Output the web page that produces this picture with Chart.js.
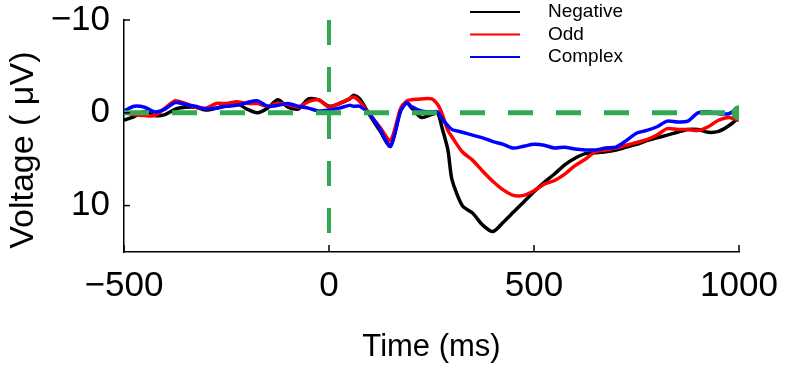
<!DOCTYPE html>
<html>
<head>
<meta charset="utf-8">
<script src="https://cdn.jsdelivr.net/npm/chart.js"></script>
<style>
    html, body { margin: 0; padding: 0; background: #fff; }
    #wrap { width: 785px; height: 371px; }
</style>
</head>
<body>
<div id="wrap"><canvas id="erpChart" width="785" height="371"></canvas></div>
<script>
// Time points (ms) and averaged ERP voltages (µV, positive plotted downward)
const times = [-500, -475, -450, -425, -400, -375, -350, -325, -300, -275, -250, -225, -200, -175, -150, -125, -100, -75, -50, -25,
    0, 25, 50, 60, 75, 100, 125, 150, 175, 190, 200, 225, 250, 265, 275, 290, 300, 325, 350, 375,
    400, 425, 450, 475, 500, 525, 550, 575, 600, 625, 650, 675, 700, 725, 750, 775, 800, 825, 850, 875,
    900, 925, 950, 975, 1000];

const negative = [0.8, 0.4, -0.1, 0.3, 0.2, -0.4, -0.6, -0.6, -0.3, -0.5, -0.8, -1.0, -0.4, 0.0, -0.5, -1.4, -0.6, -0.4, -1.5, -1.4,
    -0.7, -1.0, -1.5, -1.9, -1.5, 0.3, 2.0, 3.6, -0.4, -1.1, -0.6, 0.5, 0.2, 0.0, 1.5, 4.0, 7.2, 10.0, 10.8, 12.1,
    12.8, 11.8, 10.7, 9.6, 8.5, 7.5, 6.6, 5.6, 4.9, 4.4, 4.3, 4.2, 4.0, 3.7, 3.4, 3.0, 2.7, 2.4, 2.1, 1.8,
    1.8, 2.1, 2.0, 1.4, 0.5];

const odd = [0.0, 0.2, 0.3, 0.3, -0.5, -1.3, -1.0, -0.6, -0.5, -1.0, -1.0, -1.2, -1.0, -1.0, -0.7, -1.0, -0.9, -0.6, -1.2, -1.4,
    -0.6, -1.0, -1.5, -1.7, -1.2, 0.2, 1.6, 3.0, -0.5, -1.3, -1.4, -1.5, -1.5, -0.9, 0.0, 1.9, 2.6, 4.2, 5.1, 6.3,
    7.4, 8.3, 8.9, 8.9, 8.4, 7.7, 7.3, 6.6, 5.7, 5.0, 4.2, 4.0, 3.8, 3.5, 3.2, 2.9, 2.4, 1.7, 1.8, 1.8,
    1.9, 1.5, 0.8, 0.5, 0.8];

const complex = [-0.2, -0.7, -0.6, -0.1, -0.4, -1.1, -0.9, -0.7, -0.4, -0.5, -0.7, -0.8, -1.1, -1.3, -0.7, -0.8, -1.0, -0.7, -0.5, -0.2,
    -0.3, -0.5, -0.8, -0.7, -0.7, 0.2, 1.8, 3.6, -0.2, -1.1, -0.7, -0.2, -0.1, -0.1, 0.6, 1.4, 1.8, 2.1, 2.4, 2.7,
    3.1, 3.4, 3.8, 3.6, 3.4, 3.5, 3.8, 3.7, 3.9, 4.0, 4.0, 3.8, 3.7, 3.0, 2.2, 1.9, 1.5, 0.9, 1.0, 0.9,
    0.0, -0.1, 0.1, 0.1, -0.6];

const xTicks = [-500, 0, 500, 1000];
const yTicks = [-10, 0, 10];
const legendLabels = ['Negative', 'Odd', 'Complex'];

const green = '#33a852';
const seriesColors = ['#000000', '#ff0000', '#0000ff'];
const fontFamily = '"Liberation Sans", Arial, sans-serif';

function toPoints(values) {
    return times.map((t, i) => ({ x: t, y: values[i] }));
}

function minusSign(value) {
    return value < 0 ? '\u2212' + Math.abs(value) : String(value);
}

// legend box and small inward ticks, drawn the way the original figure has them
const extras = {
    id: 'extras',
    afterDraw(chart) {
        const { ctx, scales: { x, y } } = chart;
        ctx.save();
        ctx.strokeStyle = '#000';
        ctx.lineWidth = 1.5;
        yTicks.forEach(v => {
            const py = y.getPixelForValue(v);
            ctx.beginPath();
            ctx.moveTo(x.left, py);
            ctx.lineTo(x.left + 6, py);
            ctx.stroke();
        });
        xTicks.forEach(v => {
            const px = x.getPixelForValue(v);
            ctx.beginPath();
            ctx.moveTo(px, y.bottom);
            ctx.lineTo(px, y.bottom - 7);
            ctx.stroke();
        });

        ctx.font = '19px ' + fontFamily;
        ctx.textBaseline = 'middle';
        ctx.fillStyle = '#000';
        legendLabels.forEach((label, i) => {
            const rowY = 12 + i * 22.5;
            ctx.strokeStyle = seriesColors[i];
            ctx.lineWidth = 2;
            ctx.beginPath();
            ctx.moveTo(470, rowY);
            ctx.lineTo(520, rowY);
            ctx.stroke();
            ctx.fillText(label, 548, rowY);
        });
        ctx.restore();
    }
};

const ctx = document.getElementById('erpChart');

new Chart(ctx.getContext('2d'), {
    type: 'line',
    data: {
        datasets: [
            {
                label: 'zero',
                data: [{ x: -500, y: 0 }, { x: 1000, y: 0 }],
                borderColor: green,
                backgroundColor: green,
                borderWidth: 5,
                borderDash: [25, 23],
                pointRadius: [0, 5],
                order: 0,
            },
            {
                label: 'onset',
                data: [{ x: 0, y: -10 }, { x: 0, y: 15 }],
                borderColor: green,
                borderWidth: 4,
                borderDash: [25, 22],
                pointRadius: 0,
                order: 0,
            },
            {
                label: legendLabels[2],
                data: toPoints(complex),
                borderColor: seriesColors[2],
                borderWidth: 3.5,
                pointRadius: 0,
                tension: 0.25,
                order: 1,
            },
            {
                label: legendLabels[1],
                data: toPoints(odd),
                borderColor: seriesColors[1],
                borderWidth: 3.5,
                pointRadius: 0,
                tension: 0.25,
                order: 2,
            },
            {
                label: legendLabels[0],
                data: toPoints(negative),
                borderColor: seriesColors[0],
                borderWidth: 3.5,
                pointRadius: 0,
                tension: 0.25,
                order: 3,
            },
        ],
    },
    options: {
        responsive: false,
        animation: false,
        layout: {
            padding: { top: 20, right: 46, left: 0, bottom: 0 },
        },
        plugins: {
            legend: { display: false },
            tooltip: { enabled: false },
        },
        scales: {
            x: {
                type: 'linear',
                min: -500,
                max: 1000,
                afterBuildTicks: (scale) => { scale.ticks = xTicks.map(v => ({ value: v })); },
                afterFit: (scale) => {
                    scale.height = 119;
                    scale.paddingLeft = 0;
                    scale.paddingRight = 0;
                },
                grid: { display: false, drawTicks: false },
                border: { display: true, color: '#000', width: 1.5 },
                ticks: {
                    color: '#000',
                    font: { family: fontFamily, size: 35 },
                    padding: 13,
                    maxRotation: 0,
                    callback: (value) => minusSign(value),
                },
                title: {
                    display: true,
                    text: 'Time (ms)',
                    color: '#000',
                    font: { family: fontFamily, size: 31 },
                    padding: { top: 0, bottom: 5 },
                },
            },
            y: {
                type: 'linear',
                min: -10,
                max: 15,
                reverse: true,
                afterBuildTicks: (scale) => { scale.ticks = yTicks.map(v => ({ value: v })); },
                afterFit: (scale) => {
                    scale.width = 124;
                    scale.paddingTop = 0;
                    scale.paddingBottom = 0;
                },
                grid: { display: false, drawTicks: false },
                border: { display: true, color: '#000', width: 1.5 },
                ticks: {
                    color: '#000',
                    font: { family: fontFamily, size: 35 },
                    padding: 14,
                    callback: (value) => minusSign(value),
                },
                title: {
                    display: true,
                    // trailing spaces push the centred text down to where the original sits
                    text: 'Voltage ( \u03bcV)   ',
                    color: '#000',
                    font: { family: fontFamily, size: 34 },
                    padding: { top: 3, bottom: 0 },
                },
            },
        },
    },
    plugins: [extras],
});
</script>
</body>
</html>
